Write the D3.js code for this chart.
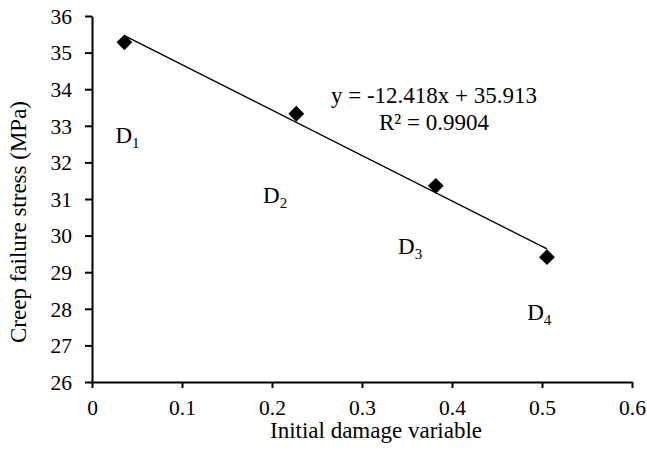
<!DOCTYPE html>
<html><head><meta charset="utf-8">
<script src="https://cdn.jsdelivr.net/npm/d3@7"></script>
<style>
html,body{margin:0;padding:0;background:#fff;}
svg, svg text{font-family:"Liberation Serif","Times New Roman",serif !important;}
svg{display:block;}
</style></head>
<body><svg id="chart" width="647" height="452"></svg>
<script>
const damage = [0.036, 0.227, 0.382, 0.5055];
const stress = [35.28, 33.33, 31.36, 29.41];
const pointLabels = ["1", "2", "3", "4"];
const xTicks = [0, 0.1, 0.2, 0.3, 0.4, 0.5, 0.6];
const yTicks = [26, 27, 28, 29, 30, 31, 32, 33, 34, 35, 36];
const slope = -12.418, intercept = 35.913;
const eqText = "y = -12.418x + 35.913";
const r2Text = "R\u00B2 = 0.9904";
// label anchor positions in data units (x, y)
const labelX = [0.026, 0.19, 0.34, 0.4835];
const labelY = [32.53, 30.89, 29.5, 27.7];

const svg = d3.select("#chart");
const x = d3.scaleLinear().domain([0, 0.6]).range([92, 632]);
const y = d3.scaleLinear().domain([26, 36]).range([382, 16]);

const tickFont = 21.5, titleFont = 23;

const xAxis = svg.append("g").attr("transform", `translate(0,${y(26)})`)
  .call(d3.axisBottom(x).tickValues(xTicks).tickFormat(d => d === 0 ? "0" : String(d)).tickSize(6).tickSizeOuter(0));
const yAxis = svg.append("g").attr("transform", `translate(${x(0)},0)`)
  .call(d3.axisLeft(y).tickValues(yTicks).tickFormat(d3.format("d")).tickSize(7).tickSizeOuter(0));
[xAxis, yAxis].forEach(g => {
  g.attr("font-family", null).attr("font-size", null);
  g.select(".domain").attr("stroke", "#000").attr("stroke-width", 2);
  g.selectAll(".tick line").attr("stroke", "#000").attr("stroke-width", 2);
  g.selectAll(".tick text").attr("fill", "#000").style("font-size", tickFont + "px");
});
xAxis.selectAll(".tick text").attr("dy", null).attr("y", 33);
yAxis.selectAll(".tick text").attr("x", -20).attr("dy", "0.34em");

// trendline
const xs = d3.extent(damage);
svg.append("line")
  .attr("x1", x(xs[0])).attr("y1", y(slope * xs[0] + intercept))
  .attr("x2", x(xs[1])).attr("y2", y(slope * xs[1] + intercept))
  .attr("stroke", "#000").attr("stroke-width", 1.5);

// markers
const sym = d3.symbol().type(d3.symbolSquare).size(125);
svg.selectAll("path.pt").data(damage).join("path").attr("class", "pt")
  .attr("d", sym())
  .attr("transform", (d, i) => `translate(${x(d)},${y(stress[i])}) rotate(45)`)
  .attr("fill", "#000");

// point labels
const lab = svg.selectAll("text.dl").data(pointLabels).join("text").attr("class", "dl")
  .attr("x", (d, i) => x(labelX[i])).attr("y", (d, i) => y(labelY[i]))
  .style("font-size", titleFont + "px").attr("fill", "#000");
lab.append("tspan").text("D");
lab.append("tspan").style("font-size", "15px").attr("dy", 5).text(d => d);

// equation
svg.append("text").attr("x", 434).attr("y", 103).attr("text-anchor", "middle")
  .style("font-size", titleFont + "px").text(eqText);
svg.append("text").attr("x", 434).attr("y", 130).attr("text-anchor", "middle")
  .style("font-size", titleFont + "px").text(r2Text);

// axis titles
svg.append("text").attr("x", 376).attr("y", 438).attr("text-anchor", "middle")
  .style("font-size", titleFont + "px").text("Initial damage variable");
svg.append("text").attr("transform", "translate(26,222) rotate(-90)").attr("text-anchor", "middle")
  .style("font-size", titleFont + "px").text("Creep failure stress (MPa)");
</script></body></html>
